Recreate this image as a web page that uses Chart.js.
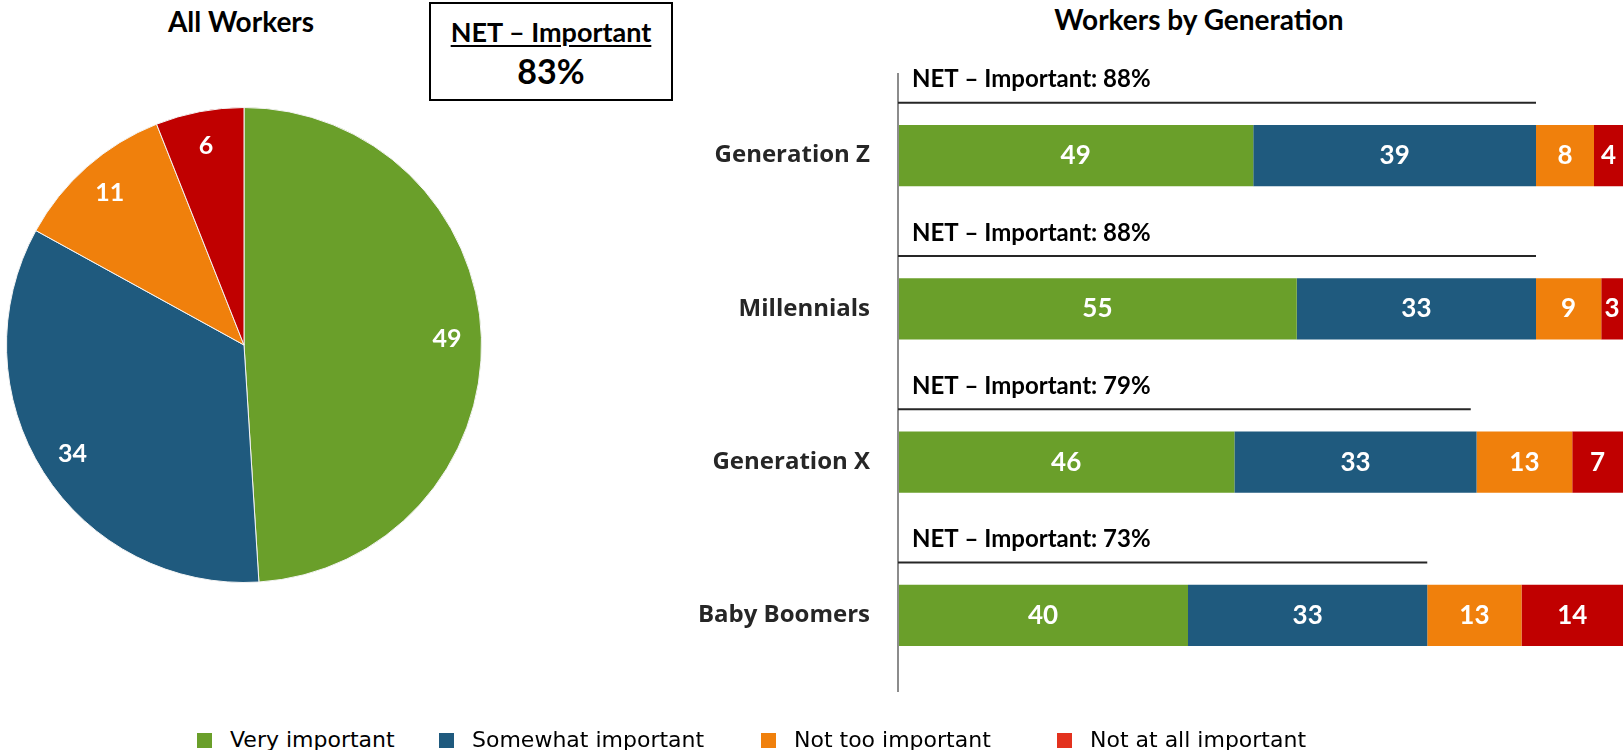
<!DOCTYPE html>
<html>
<head>
<meta charset="utf-8">
<script src="https://cdn.jsdelivr.net/npm/chart.js@4.4.1/dist/chart.umd.min.js"></script>
<style>
  body { margin: 0; width: 1623px; height: 750px; overflow: hidden; background: #fff; position: relative; }
  .title { position: absolute; font: bold 28px Lato, sans-serif; color: #000; text-align: center; white-space: nowrap; }
  #netBox { position: absolute; left: 429px; top: 2px; width: 240px; height: 95px; border: 2px solid #000; text-align: center; font-family: Lato, sans-serif; font-weight: bold; }
  #netBox .t1 { position: absolute; left: 0; right: 0; top: 11px; font-size: 27px; text-decoration: underline; text-underline-offset: 3px; }
  #netBox .t2 { position: absolute; left: 0; right: 0; top: 46px; font-size: 34px; }
  .leg { position: absolute; top: 727px; font: 22px "DejaVu Sans", sans-serif; color: #000; white-space: nowrap; }
  .leg span { display: inline-block; width: 15px; height: 15px; margin-right: 18px; vertical-align: -1px; }
</style>
</head>
<body>
<div class="title" style="left:141px; top:4px; width:200px;">All Workers</div>
<div id="netBox"><div class="t1">NET – Important</div><div class="t2">83%</div></div>
<div class="title" style="left:999px; top:2px; width:400px;">Workers by Generation</div>

<div style="position:absolute; left:0; top:107px; width:488px; height:476px;"><canvas id="pie"></canvas></div>
<div style="position:absolute; left:660px; top:29px; width:963px; height:713px;"><canvas id="bars"></canvas></div>

<div id="legend"></div>

<script>
'use strict';
// data
const seriesNames = ['Very important', 'Somewhat important', 'Not too important', 'Not at all important'];
const allWorkers = [49, 34, 11, 6];
const generations = ['Generation Z', 'Millennials', 'Generation X', 'Baby Boomers'];
const veryImportant = [49, 55, 46.4, 40];
const somewhatImportant = [39, 33, 33.4, 33];
const notTooImportant = [8, 9, 13.2, 13];
const notAtAllImportant = [4, 3, 7, 14];
const netImportant = [88, 88, 79, 73];

const colors = ['#6a9f2a', '#1f5a7e', '#f0800c', '#c00000'];
const legendColors = ['#6a9f2a', '#1f5a7e', '#f0800c', '#e3321e'];
const legendLeft = [197, 439, 761, 1057];

// legend
const legendDiv = document.getElementById('legend');
for (let i = 0; i < seriesNames.length; i++) {
  const d = document.createElement('div');
  d.className = 'leg';
  d.style.left = legendLeft[i] + 'px';
  d.innerHTML = '<span style="background:' + legendColors[i] + '"></span>' + seriesNames[i];
  legendDiv.appendChild(d);
}

//pie labels
const pieLabels = {
  id: 'pieLabels',
  afterDatasetsDraw(chart) {
    const ctx = chart.ctx;
    const meta = chart.getDatasetMeta(0);
    ctx.save();
    ctx.font = 'bold 25px Lato';
    ctx.fillStyle = '#fff';
    ctx.textAlign = 'center';
    ctx.textBaseline = 'middle';
    meta.data.forEach((arc, i) => {
      const mid = (arc.startAngle + arc.endAngle) / 2;
      const r = arc.outerRadius * 0.855;
      ctx.fillText(allWorkers[i], arc.x + Math.cos(mid) * r, arc.y + Math.sin(mid) * r);
    });
    ctx.restore();
  }
};

new Chart(document.getElementById('pie'), {
  type: 'pie',
  data: {
    labels: seriesNames,
    datasets: [{ data: allWorkers, backgroundColor: colors, borderColor: '#f4f4f4', borderWidth: 1 }]
  },
  options: {
    responsive: true,
    maintainAspectRatio: false,
    animation: false,
    layout: { padding: 0 },
    plugins: { legend: { display: false }, tooltip: { enabled: false } }
  },
  plugins: [pieLabels]
});

// bar labels + NET lines
const barExtras = {
  id: 'barExtras',
  afterDatasetsDraw(chart) {
    const ctx = chart.ctx;
    const xs = chart.scales.x;
    const ys = chart.scales.y;
    const area = chart.chartArea;
    ctx.save();
    // axis line
    ctx.strokeStyle = '#8c8c8c';
    ctx.lineWidth = 2;
    ctx.beginPath();
    ctx.moveTo(area.left, area.top - 6);
    ctx.lineTo(area.left, area.bottom);
    ctx.stroke();
    // values (rounded, as printed on the chart)
    ctx.font = 'bold 26px Lato';
    ctx.fillStyle = '#fff';
    ctx.textAlign = 'center';
    ctx.textBaseline = 'middle';
    chart.data.datasets.forEach((ds, di) => {
      chart.getDatasetMeta(di).data.forEach((bar, i) => {
        ctx.fillText(Math.round(ds.data[i]), (bar.x + bar.base) / 2, bar.y);
      });
    });
    // NET lines
    for (let i = 0; i < netImportant.length; i++) {
      const yc = ys.getPixelForValue(i);
      ctx.strokeStyle = '#262626';
      ctx.lineWidth = 2;
      ctx.beginPath();
      ctx.moveTo(area.left, yc - 53);
      ctx.lineTo(xs.getPixelForValue(netImportant[i]), yc - 53);
      ctx.stroke();
      ctx.fillStyle = '#000';
      ctx.textAlign = 'left';
      ctx.font = 'bold 24px Lato';
      ctx.fillText('NET – Important: ' + netImportant[i] + '%', area.left + 14, yc - 76);
    }
    ctx.restore();
  }
};

const barData = [veryImportant, somewhatImportant, notTooImportant, notAtAllImportant];

new Chart(document.getElementById('bars'), {
  type: 'bar',
  data: {
    labels: generations,
    datasets: barData.map((d, i) => ({
      label: seriesNames[i],
      data: d,
      backgroundColor: colors[i],
      borderWidth: 0,
      barPercentage: 0.4,
      categoryPercentage: 1
    }))
  },
  options: {
    indexAxis: 'y',
    responsive: true,
    maintainAspectRatio: false,
    animation: false,
    layout: { padding: { top: 50, bottom: 50, left: 0, right: 0 } },
    scales: {
      x: { stacked: true, min: 0, max: 100, display: false },
      y: {
        stacked: true,
        grid: { display: false, drawTicks: false },
        border: { display: false },
        ticks: { color: '#262626', font: { family: 'Open Sans', weight: 'bold', size: 24 }, padding: 28 },
        afterFit(scale) { scale.width = 238; }
      }
    },
    plugins: { legend: { display: false }, tooltip: { enabled: false } }
  },
  plugins: [barExtras]
});
</script>
</body>
</html>
